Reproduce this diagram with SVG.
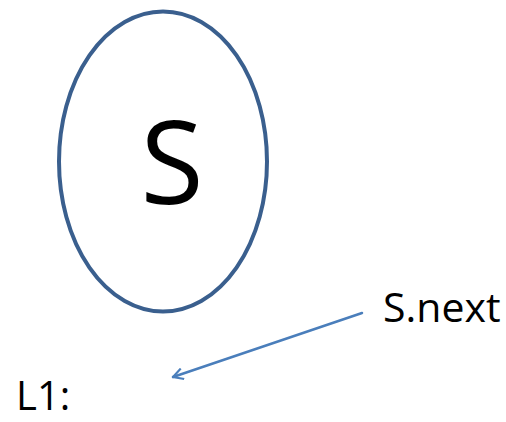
<svg xmlns="http://www.w3.org/2000/svg" width="506" height="422" viewBox="0 0 506 422">
<style>
text{font-family:"Open Sans","Liberation Sans",sans-serif;fill:#000}
.node{fill:#fff;stroke:#3A5F8E;stroke-width:4}
.conn{fill:none;stroke:#4A7EBB;stroke-width:2.5;stroke-linecap:round}
</style>
<defs>
<marker id="arr" viewBox="0 0 12 12" refX="11" refY="6" markerWidth="12" markerHeight="12" markerUnits="userSpaceOnUse" orient="auto">
<path d="M1,0.5 L11,6 L1,11.5" fill="none" stroke="#4A7EBB" stroke-width="2.2"/>
</marker>
</defs>
<rect width="506" height="422" fill="#fff"/>
<g id="nodeS">
<ellipse class="node" cx="163" cy="161.5" rx="104" ry="150"/>
<text x="172" y="204" font-size="115" text-anchor="middle">S</text>
</g>
<g id="label-snext">
<text x="383" y="322" font-size="41">S.next</text>
</g>
<g id="label-l1">
<text x="16" y="410" font-size="40">L1:</text>
</g>
<g id="connectors">
<path class="conn" d="M362,313 L173,377" marker-end="url(#arr)"/>
</g>
</svg>
